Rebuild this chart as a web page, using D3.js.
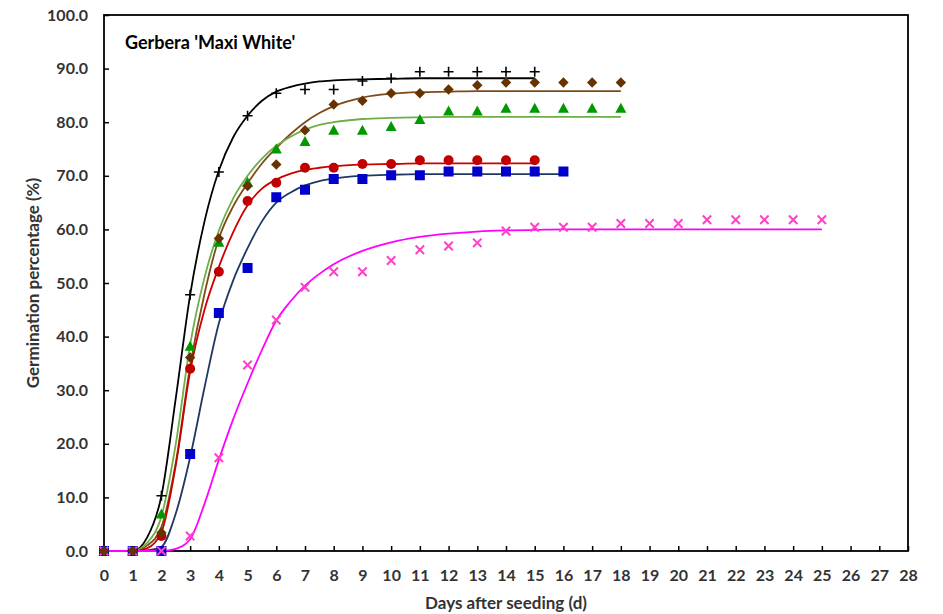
<!DOCTYPE html>
<html>
<head>
<meta charset="utf-8">
<script src="https://cdn.jsdelivr.net/npm/d3@7/dist/d3.min.js"></script>
<style>
  html, body { margin: 0; padding: 0; background: #fff; }
  svg { display: block; }
  text { font-family: Lato, "Open Sans", sans-serif; }
</style>
</head>
<body>
<svg id="chart" width="943" height="614"></svg>
<script>
// Axis ticks
const xTicks = [0,1,2,3,4,5,6,7,8,9,10,11,12,13,14,15,16,17,18,19,20,21,22,23,24,25,26,27,28];
const yTicks = [0,10,20,30,40,50,60,70,80,90,100];

// Observed germination (%) by day after seeding, starting at day 0
const obsBlack = [0,0,10.3,47.8,70.7,81.2,85.4,86.1,86.1,87.7,88.2,89.4,89.4,89.4,89.4,89.4];
const obsBrown = [0,0,3.4,36.1,58.3,68.1,72.1,78.5,83.3,84.0,85.4,85.4,86.1,86.9,87.4,87.4,87.4,87.4,87.4];
const obsGreen = [0,0,6.9,38.2,57.6,68.8,75.0,76.4,78.5,78.5,79.2,80.5,82.1,82.1,82.6,82.6,82.6,82.6,82.6];
const obsRed   = [0,0,2.8,34.0,52.1,65.3,68.7,71.5,71.5,72.2,72.2,72.9,72.9,72.9,72.9,72.9];
const obsBlue  = [0,0,0,18.1,44.4,52.8,66.0,67.4,69.4,69.4,70.1,70.1,70.8,70.8,70.8,70.8,70.8];
const obsPink  = [0,0,0,2.8,17.4,34.7,43.1,49.2,52.1,52.1,54.2,56.2,56.9,57.5,59.7,60.4,60.4,60.4,61.1,61.1,61.1,61.8,61.8,61.8,61.8,61.8];

// Fitted germination curves, sampled at these days (each curve stops at its last observation)
const fitDays  = [0,1,1.5,2,2.5,3,3.5,4,4.5,5,5.5,6,6.5,7,7.5,8,9,10,11,12,13,14,15,16,18,20,25];
const fitBlack = [0,0,2.5,10.3,28.5,47.8,61.5,71.0,77.2,81.2,84.0,85.7,86.6,87.2,87.6,87.8,88.0,88.1,88.2,88.2,88.2,88.2,88.2];
const fitRed   = [0,0,0.5,3.5,16,33.5,45,53,59.5,64.5,67.6,69.3,70.4,71.1,71.5,71.8,72.1,72.2,72.3,72.3,72.3,72.3,72.3];
const fitBlue  = [0,0,0.1,0.8,7,17.5,30.5,42.5,50.5,56.5,61.5,65.0,66.9,68.2,69.0,69.5,70.0,70.2,70.3,70.3,70.3,70.3,70.3,70.3];
const fitBrown = [0,0,1.0,4.5,16.5,34.5,48,58.3,64.3,68.6,72.3,75.2,77.8,80.0,81.7,83.0,84.6,85.3,85.6,85.7,85.8,85.8,85.8,85.8,85.8];
const fitGreen = [0,0,1.5,6.5,20,38.5,51,59.8,65.8,70.0,73.2,75.6,77.3,78.6,79.5,80.0,80.6,80.8,80.9,81.0,81.0,81.0,81.0,81.0,81.0];
const fitPink  = [0,0,0,0,0.4,2.2,8.8,17.0,24.6,31.3,37.5,43.0,46.6,49.5,51.7,53.5,56.0,57.6,58.6,59.2,59.6,59.8,59.9,60.0,60.0,60.0,60.0];

const svg = d3.select("#chart");
const plotLeft = 104, plotRight = 908, plotTop = 15, plotBottom = 551;

const x = d3.scaleLinear().domain([0, 28]).range([plotLeft, plotRight]);
const y = d3.scaleLinear().domain([0, 100]).range([plotBottom, plotTop]);

// Axes with inward ticks
const xAxis = svg.append("g")
  .attr("transform", `translate(0,${plotBottom})`)
  .call(d3.axisBottom(x).tickValues(xTicks).tickFormat(d3.format("d"))
    .tickSizeInner(-5).tickSizeOuter(0).tickPadding(19));
const yAxis = svg.append("g")
  .attr("transform", `translate(${plotLeft},0)`)
  .call(d3.axisLeft(y).tickValues(yTicks).tickFormat(d3.format(".1f"))
    .tickSizeInner(-5).tickSizeOuter(0).tickPadding(16));

[xAxis, yAxis].forEach(g => {
  g.select(".domain").remove();
  g.selectAll(".tick line").attr("stroke", "#000").attr("stroke-width", 1.5);
  g.selectAll(".tick text")
    .attr("fill", "#333")
    .style("font-size", "16px")
    .style("font-weight", "700");
});

// Plot frame
svg.append("rect")
  .attr("x", plotLeft).attr("y", plotTop)
  .attr("width", plotRight - plotLeft).attr("height", plotBottom - plotTop)
  .attr("fill", "none").attr("stroke", "#000").attr("stroke-width", 1.8);

// Fitted curves
const line = d3.line()
  .x((d, i) => x(fitDays[i]))
  .y(d => y(d))
  .curve(d3.curveMonotoneX);

const curves = [
  { v: fitBlack, c: "#000000" },
  { v: fitBrown, c: "#7F4A1A" },
  { v: fitGreen, c: "#70AD47" },
  { v: fitRed,   c: "#CC0000" },
  { v: fitBlue,  c: "#1F3864" },
  { v: fitPink,  c: "#FF00FF" }
];
svg.append("g").selectAll("path")
  .data(curves).join("path")
  .attr("d", d => line(d.v))
  .attr("fill", "none")
  .attr("stroke", d => d.c)
  .attr("stroke-width", 1.8);

// Observed points
const markers = svg.append("g");

markers.append("g").selectAll("path").data(obsBlack).join("path")
  .attr("transform", (d, i) => `translate(${x(i)},${y(d)})`)
  .attr("d", "M-5,0H5M0,-5V5")
  .attr("stroke", "#000").attr("stroke-width", 1.6).attr("fill", "none");

markers.append("g").selectAll("path").data(obsGreen).join("path")
  .attr("transform", (d, i) => `translate(${x(i)},${y(d)})`)
  .attr("d", "M0,-5.5L5.5,4.5L-5.5,4.5Z")
  .attr("fill", "#009900");

markers.append("g").selectAll("circle").data(obsRed).join("circle")
  .attr("cx", (d, i) => x(i)).attr("cy", d => y(d)).attr("r", 5)
  .attr("fill", "#C00000");

markers.append("g").selectAll("rect").data(obsBlue).join("rect")
  .attr("x", (d, i) => x(i) - 5).attr("y", d => y(d) - 5)
  .attr("width", 10).attr("height", 10)
  .attr("fill", "#0000CC");

markers.append("g").selectAll("path").data(obsPink).join("path")
  .attr("transform", (d, i) => `translate(${x(i)},${y(d)})`)
  .attr("d", "M-4.2,-4.2L4.2,4.2M-4.2,4.2L4.2,-4.2")
  .attr("stroke", "#FF40C8").attr("stroke-width", 2).attr("fill", "none");

markers.append("g").selectAll("path").data(obsBrown).join("path")
  .attr("transform", (d, i) => `translate(${x(i)},${y(d)})`)
  .attr("d", "M0,-5.2L5.2,0L0,5.2L-5.2,0Z")
  .attr("fill", "#663300");

// Title and axis titles
svg.append("text")
  .attr("x", 125).attr("y", 49)
  .attr("fill", "#000")
  .style("font-size", "18px").style("font-weight", "700")
  .text("Gerbera 'Maxi White'");

svg.append("text")
  .attr("transform", "translate(39,283) rotate(-90)")
  .attr("text-anchor", "middle")
  .attr("fill", "#333")
  .style("font-size", "17px").style("font-weight", "700")
  .text("Germination percentage (%)");

svg.append("text")
  .attr("x", 506).attr("y", 609)
  .attr("text-anchor", "middle")
  .attr("fill", "#333")
  .style("font-size", "17px").style("font-weight", "700")
  .text("Days after seeding (d)");
</script>
</body>
</html>
